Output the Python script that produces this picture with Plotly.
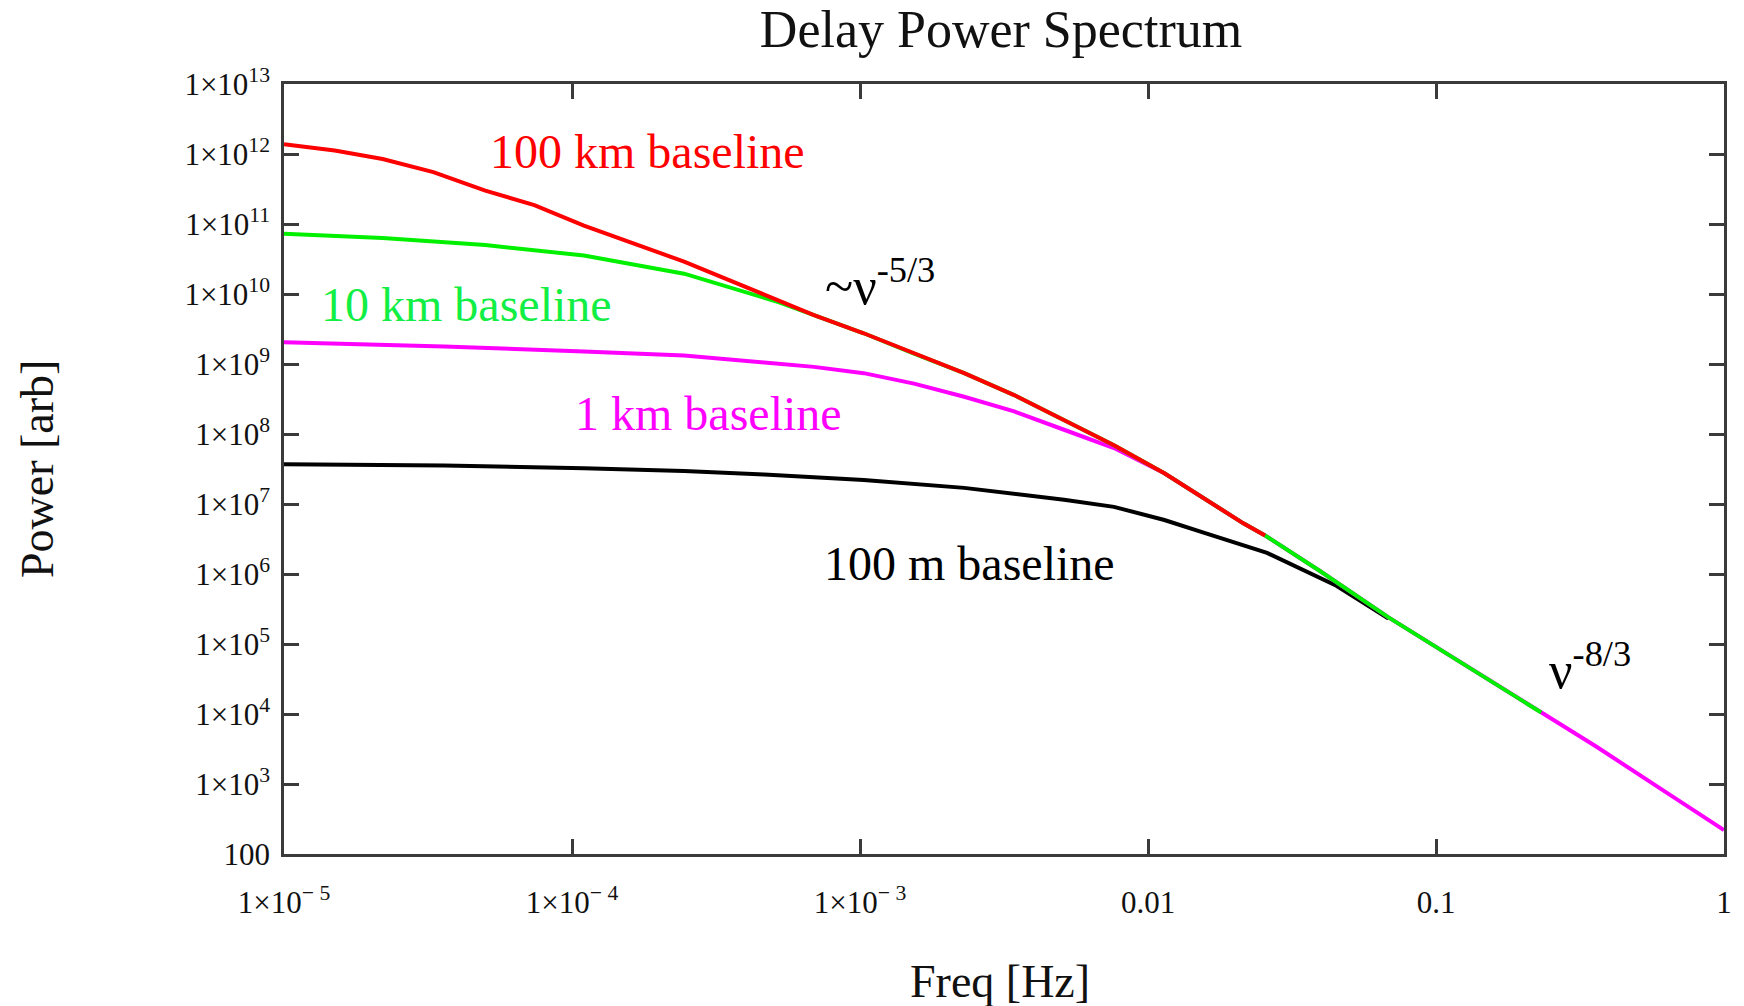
import plotly.graph_objects as go

# ---- data (Hz, arbitrary power) ----
freq_100km = [1.0e-5, 1.5e-5, 2.2e-5, 3.3e-5, 5.0e-5, 7.4e-5, 1.10e-4, 1.64e-4, 2.45e-4,
              4.65e-4, 6.92e-4, 1.03e-3, 1.54e-3, 2.30e-3, 3.43e-3, 5.11e-3, 7.62e-3,
              1.14e-2, 1.56e-2, 2.15e-2, 2.55e-2]
power_100km = [1.38e12, 1.12e12, 8.5e11, 5.5e11, 3.0e11, 1.86e11, 9.5e10, 5.25e10, 2.9e10,
               9.8e9, 5.0e9, 2.75e9, 1.41e9, 7.4e8, 3.6e8, 1.58e8, 6.9e7,
               2.75e7, 1.2e7, 5.25e6, 3.55e6]

freq_10km = [1.0e-5, 2.2e-5, 5.0e-5, 1.10e-4, 2.45e-4, 4.65e-4, 5.24e-4, 6.92e-4, 1.03e-3,
             1.54e-3, 2.30e-3, 3.43e-3, 5.11e-3, 7.62e-3, 1.14e-2, 1.56e-2, 2.15e-2,
             2.55e-2, 3.93e-2, 6.84e-2, 0.119, 0.232]
power_10km = [7.25e10, 6.3e10, 5.0e10, 3.55e10, 1.95e10, 8.7e9, 7.6e9, 5.0e9, 2.75e9,
              1.41e9, 7.4e8, 3.6e8, 1.58e8, 6.9e7, 2.75e7, 1.2e7, 5.25e6,
              3.55e6, 1.12e6, 2.4e5, 5.75e4, 1.05e4]

freq_1km = [1.0e-5, 3.6e-5, 1.10e-4, 2.45e-4, 4.65e-4, 6.92e-4, 1.03e-3, 1.54e-3, 2.30e-3,
            3.43e-3, 5.11e-3, 7.62e-3, 1.14e-2, 1.56e-2, 2.15e-2, 2.55e-2, 3.93e-2,
            6.84e-2, 0.119, 0.232, 0.361, 0.630, 1.0]
power_1km = [2.05e9, 1.78e9, 1.51e9, 1.32e9, 1.05e9, 9.1e8, 7.4e8, 5.25e8, 3.4e8,
             2.1e8, 1.15e8, 6.3e7, 2.75e7, 1.2e7, 5.25e6, 3.55e6, 1.12e6,
             2.4e5, 5.75e4, 1.05e4, 3.4e3, 7.6e2, 2.2e2]

freq_100m = [1.0e-5, 3.6e-5, 1.10e-4, 2.45e-4, 4.65e-4, 1.03e-3, 2.30e-3, 5.11e-3, 7.62e-3,
             1.14e-2, 1.56e-2, 2.15e-2, 2.59e-2, 4.51e-2, 6.84e-2]
power_100m = [3.7e7, 3.55e7, 3.25e7, 2.95e7, 2.63e7, 2.2e7, 1.7e7, 1.15e7, 9.1e6,
              5.9e6, 3.9e6, 2.57e6, 2.0e6, 6.8e5, 2.3e5]

x_tickvals = [1e-5, 1e-4, 1e-3, 1e-2, 1e-1, 1]
x_ticktext = ["1×10<sup>− 5</sup>", "1×10<sup>− 4</sup>", "1×10<sup>− 3</sup>", "0.01", "0.1", "1"]
y_tickvals = [10.0 ** k for k in range(2, 14)]
y_ticktext = ["100"] + ["1×10<sup>%d</sup>" % k for k in range(3, 14)]

SERIF = "Liberation Serif"
AX = "#3a3a3a"

fig = go.Figure()
# draw order: black (bottom), magenta, green, red (top)
fig.add_trace(go.Scatter(x=freq_100m, y=power_100m, mode="lines", name="100 m baseline",
                         line=dict(color="#000000", width=4)))
fig.add_trace(go.Scatter(x=freq_1km, y=power_1km, mode="lines", name="1 km baseline",
                         line=dict(color="#ff00ff", width=4)))
fig.add_trace(go.Scatter(x=freq_10km, y=power_10km, mode="lines", name="10 km baseline",
                         line=dict(color="#00f000", width=4)))
fig.add_trace(go.Scatter(x=freq_100km, y=power_100km, mode="lines", name="100 km baseline",
                         line=dict(color="#ff0000", width=4)))

L, R, T, B = 284, 20, 84, 152
W, H = 1744, 1006
pw, ph = W - L - R, H - T - B

def px(xp):
    return (xp - L) / pw

def py(yp):
    return (H - B - yp) / ph

annos = [
    dict(text="100 km baseline", x=px(647), y=py(151), color="#ff0000", size=48, xanchor="center"),
    dict(text="10 km baseline", x=px(466), y=py(304), color="#11ee44", size=48, xanchor="center"),
    dict(text="1 km baseline", x=px(708), y=py(413), color="#ff00ff", size=48, xanchor="center"),
    dict(text="100 m baseline", x=px(969), y=py(563), color="#000000", size=48, xanchor="center"),
    dict(text="~ν<sup>-5/3</sup>", x=px(823), y=py(282), color="#000000", size=52, xanchor="left"),
    dict(text="ν<sup>-8/3</sup>", x=px(1547), y=py(666), color="#000000", size=52, xanchor="left"),
]
for a in annos:
    fig.add_annotation(text=a["text"], x=a["x"], y=a["y"], xref="paper", yref="paper",
                       xanchor=a["xanchor"], yanchor="middle", showarrow=False,
                       font=dict(family=SERIF, size=a["size"], color=a["color"]))

# axis titles
fig.add_annotation(text="Freq [Hz]", x=px(1000), y=py(981), xref="paper", yref="paper",
                   xanchor="center", yanchor="middle", showarrow=False,
                   font=dict(family=SERIF, size=46, color="#111111"))
fig.add_annotation(text="Power [arb]", x=px(37), y=py(469), xref="paper", yref="paper",
                   xanchor="center", yanchor="middle", showarrow=False, textangle=-90,
                   font=dict(family=SERIF, size=46, color="#111111"))

fig.update_layout(
    width=W, height=H,
    margin=dict(l=L, r=R, t=T, b=B),
    paper_bgcolor="white", plot_bgcolor="white",
    showlegend=False,
    title=dict(text="Delay Power Spectrum", x=1001 / W, xanchor="center",
               y=1 - 29 / H, yanchor="middle", yref="container",
               font=dict(family=SERIF, size=52, color="#111111")),
    xaxis=dict(type="log", range=[-5, 0], tickmode="array", tickvals=x_tickvals,
               ticktext=x_ticktext, ticks="inside", ticklen=15, tickwidth=2.5, tickcolor=AX,
               showline=True, linecolor=AX, linewidth=2.5, mirror="ticks",
               showgrid=False, zeroline=False, ticklabelstandoff=19,
               tickfont=dict(family=SERIF, size=31, color="#111111")),
    yaxis=dict(type="log", range=[2, 13], tickmode="array", tickvals=y_tickvals,
               ticktext=y_ticktext, ticks="inside", ticklen=15, tickwidth=2.5, tickcolor=AX,
               showline=True, linecolor=AX, linewidth=2.5, mirror="ticks",
               showgrid=False, zeroline=False, ticklabelstandoff=5,
               tickfont=dict(family=SERIF, size=31, color="#111111")),
)

fig.write_html("out.html")
